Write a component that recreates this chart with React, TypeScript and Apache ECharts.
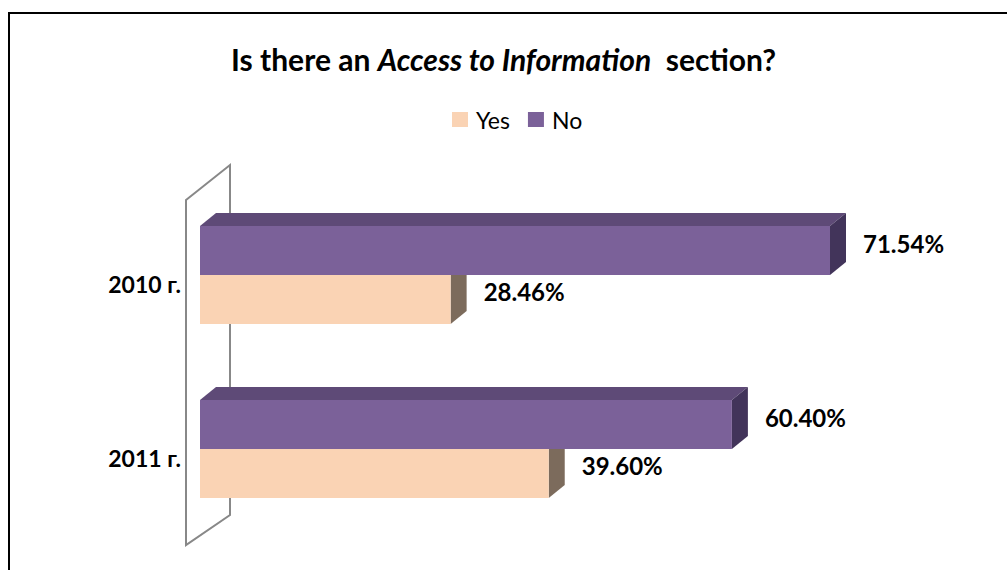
import React, { useEffect, useRef } from "react";
import * as echarts from "echarts";

const categories = ["2010 г.", "2011 г."];
const yesValues = [28.46, 39.6];
const noValues = [71.54, 60.4];
const seriesNames = ["Yes", "No"];

const FONT = "Lato";
const DX = 16;
const DY = -13;

const colors: Record<string, { front: string; top: string; side: string }> = {
  Yes: { front: "#FAD3B4", top: "#D9B697", side: "#7C6B5C" },
  No: { front: "#7B6199", top: "#5E4A77", side: "#42345A" },
};

function makeRender(name: string) {
  return (params: any, api: any) => {
    const val = api.value(0);
    const cat = api.value(1);
    const base = api.coord([0, cat]);
    const end = api.coord([val, cat]);
    const band = api.size([0, 1])[1];
    const barH = band * 0.2816;
    const cy = base[1];
    const yt = name === "No" ? cy - barH : cy;
    const yb = name === "No" ? cy : cy + barH;
    const x0 = base[0];
    const x1 = end[0];
    const c = colors[name];
    return {
      type: "group",
      children: [
        {
          type: "polygon",
          shape: { points: [[x0, yt], [x0 + DX, yt + DY], [x1 + DX, yt + DY], [x1, yt]] },
          style: { fill: c.top },
        },
        {
          type: "polygon",
          shape: { points: [[x1, yt], [x1 + DX, yt + DY], [x1 + DX, yb + DY], [x1, yb]] },
          style: { fill: c.side },
        },
        {
          type: "rect",
          shape: { x: x0, y: yt, width: x1 - x0, height: yb - yt },
          style: { fill: c.front },
        },
        {
          type: "text",
          x: x1 + DX + 17,
          y: (yt + yb) / 2 + DY / 2 - 1,
          style: {
            text: val.toFixed(2) + "%",
            fill: "#000",
            font: `bold 24px ${FONT}`,
            verticalAlign: "middle",
            align: "left",
          },
        },
      ],
    };
  };
}

export default function App() {
  const ref = useRef<HTMLDivElement>(null);
  useEffect(() => {
    document.body.style.margin = "0";
    const chart = echarts.init(ref.current!, undefined, { renderer: "svg" });
    const valuesBy: Record<string, number[]> = { Yes: yesValues, No: noValues };
    chart.setOption({
      animation: false,
      backgroundColor: "#fff",
      title: {
        text: "{b|Is there an }{i|Access to Information}{b|  section?}",
        left: "center",
        top: 39,
        textStyle: {
          rich: {
            b: { fontFamily: FONT, fontWeight: "bold", fontSize: 30, color: "#000" },
            i: { fontFamily: FONT, fontWeight: "bold", fontStyle: "italic", fontSize: 30, color: "#000" },
          },
        },
      },
      legend: {
        data: seriesNames,
        top: 103,
        left: 447,
        icon: "rect",
        itemWidth: 16,
        itemHeight: 15,
        itemGap: 18,
        textStyle: { fontFamily: FONT, fontSize: 23, color: "#000", padding: [0, 0, 0, 3] },
      },
      graphic: [
        {
          type: "rect",
          z: -10,
          shape: { x: 9, y: 13, width: 1100, height: 700 },
          style: { fill: "none", stroke: "#000", lineWidth: 2 },
        },
        {
          type: "polygon",
          z: -5,
          shape: { points: [[186, 200], [230, 165], [230, 515], [186, 545]] },
          style: { fill: "#fff", stroke: "#888", lineWidth: 2 },
        },
      ],
      grid: { left: 200, right: 102.5, top: 188, bottom: 34 },
      xAxis: { type: "value", min: 0, max: 80, show: false },
      yAxis: {
        type: "category",
        data: categories,
        inverse: true,
        axisLine: { show: false },
        axisTick: { show: false },
        axisLabel: {
          fontFamily: FONT,
          fontWeight: "bold",
          fontSize: 23,
          color: "#000",
          margin: 19,
          verticalAlign: "top",
          lineHeight: 18,
        },
      },
      series: seriesNames.map((name) => ({
        type: "custom",
        name,
        z: 5,
        itemStyle: { color: colors[name].front },
        renderItem: makeRender(name),
        encode: { x: 0, y: 1 },
        data: valuesBy[name].map((v, i) => [v, i]),
      })),
    });
    return () => chart.dispose();
  }, []);
  return <div ref={ref} style={{ width: 1007, height: 570 }} />;
}
